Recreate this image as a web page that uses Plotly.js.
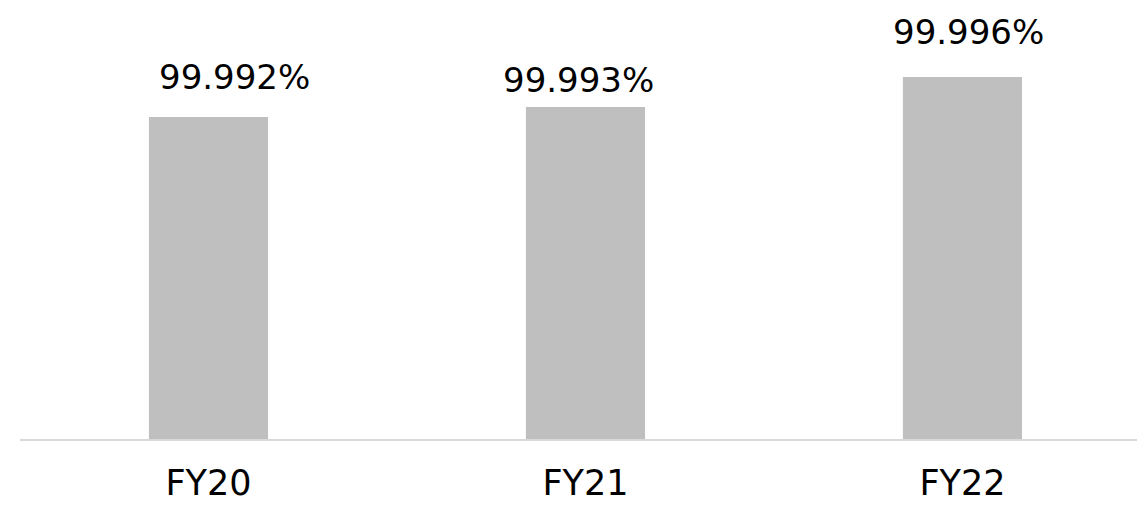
<!DOCTYPE html>
<html>
<head>
<meta charset="utf-8">
<script src="https://cdn.plot.ly/plotly-3.0.1.min.js"></script>
<style>html,body{margin:0;padding:0;background:#fff;}#chart{width:1137px;height:505px;}</style>
</head>
<body>
<div id="chart"></div>
<script>
const categories = ["FY20", "FY21", "FY22"];
const values = [99.992, 99.993, 99.996];
const valueLabels = ["99.992%", "99.993%", "99.996%"];
const labelXShift = [26, -7, 6];
const labelYShift = [40, 27, 45];

const FONT = "'DejaVu Sans', sans-serif";

const trace = {
  type: "bar",
  x: categories,
  y: values,
  width: 0.316,
  marker: {color: "#bfbfbf"},
  hoverinfo: "skip"
};

const annotations = categories.map((c, i) => ({
  x: c, y: values[i], xref: "x", yref: "y",
  text: valueLabels[i], showarrow: false,
  xanchor: "center", yanchor: "middle",
  xshift: labelXShift[i], yshift: labelYShift[i],
  font: {family: FONT, size: 34, color: "#000000"}
}));

const layout = {
  width: 1137, height: 505,
  margin: {l: 20, r: 0, t: 0, b: 66},
  paper_bgcolor: "#ffffff", plot_bgcolor: "#ffffff",
  showlegend: false,
  xaxis: {
    type: "category",
    range: [-0.5, 2.463],
    showline: true, linecolor: "#d9d9d9", linewidth: 2,
    ticks: "", showgrid: false, zeroline: false,
    ticklabelstandoff: 12,
    tickfont: {family: FONT, size: 35, color: "#000000"}
  },
  yaxis: {
    range: [99.9598, 100.0037],
    visible: false, showgrid: false, zeroline: false
  },
  annotations: annotations
};

Plotly.newPlot("chart", [trace], layout, {displayModeBar: false, staticPlot: true});
</script>
</body>
</html>
